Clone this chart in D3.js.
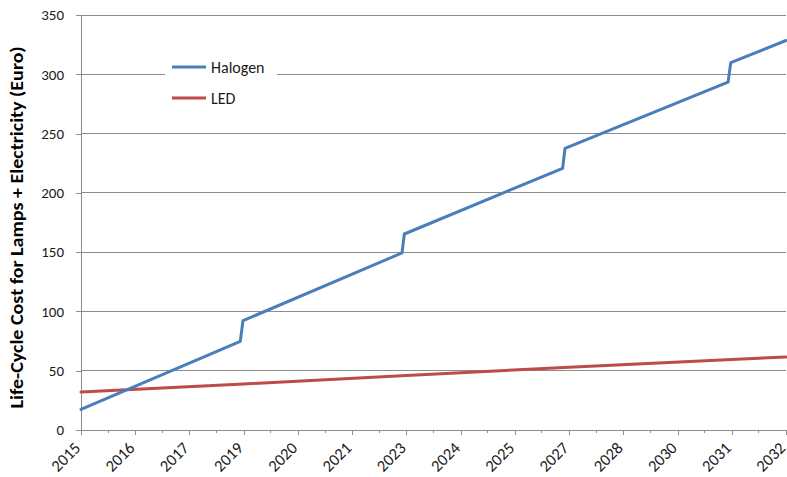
<!DOCTYPE html>
<html>
<head>
<meta charset="utf-8">
<script src="https://cdn.jsdelivr.net/npm/d3@7"></script>
<style>
  html, body { margin: 0; padding: 0; background: #fff; }
  svg { display: block; font-family: Carlito, Calibri, Lato, sans-serif; }
</style>
</head>
<body>
<svg id="chart" width="787" height="477"></svg>
<script>
// Month offsets from January 2015 and cumulative life-cycle cost (Euro)
const halogenMonths = [0, 47, 47.8, 94.7, 95.4, 142.1, 142.8, 190.9, 191.7, 208];
const halogenCost   = [17.4, 74.8, 92.2, 149.3, 165.3, 220.7, 237.6, 293.3, 309.8, 328.5];

const ledMonths = [0, 48, 96, 144, 192, 208];
const ledCost   = [32.0, 38.8, 46.0, 53.0, 59.5, 61.6];

// Category labels on the time axis (one every 16 months)
const xTickMonths = [0, 16, 32, 48, 64, 80, 96, 112, 128, 144, 160, 176, 192, 208];
const xTickLabels = ["2015", "2016", "2017", "2019", "2020", "2021", "2023",
                     "2024", "2025", "2027", "2028", "2030", "2031", "2032"];
const xMinorMonths = [8, 24, 40, 56, 72, 88, 104, 120, 136, 152, 168, 184, 200];

const yTicks = [0, 50, 100, 150, 200, 250, 300, 350];

const seriesNames  = ["Halogen", "LED"];
const seriesColors = ["#4a7ebb", "#be4b48"];

const svg = d3.select("#chart");
const margin = { left: 81, right: 1, top: 15, bottom: 47 };
const W = 787, H = 477;
const FONT = "Carlito, Calibri, Lato, sans-serif";

const x = d3.scaleLinear().domain([0, 208]).range([margin.left, W - margin.right]);
const y = d3.scaleLinear().domain([0, 350]).range([H - margin.bottom, margin.top]);

// Horizontal gridlines
svg.append("g")
  .selectAll("line")
  .data(yTicks.filter(d => d > 0))
  .join("line")
  .attr("x1", x(0)).attr("x2", x(208))
  .attr("y1", d => y(d)).attr("y2", d => y(d))
  .attr("stroke", "#8c8c8c").attr("stroke-width", 1)
  .attr("shape-rendering", "crispEdges");

// Y axis
const yAxis = svg.append("g")
  .attr("transform", `translate(${x(0)},0)`)
  .call(d3.axisLeft(y).tickValues(yTicks).tickSize(5).tickPadding(12));
yAxis.select(".domain").attr("stroke", "#8c8c8c").attr("shape-rendering", "crispEdges");
yAxis.selectAll(".tick line").attr("stroke", "#8c8c8c").attr("shape-rendering", "crispEdges");
yAxis.selectAll(".tick text")
  .attr("font-size", 15).attr("fill", "#1a1a1a")
  .style("font-family", FONT);

// X axis: minor ticks
svg.append("g")
  .attr("transform", `translate(0,${y(0)})`)
  .selectAll("line")
  .data(xMinorMonths)
  .join("line")
  .attr("x1", d => x(d)).attr("x2", d => x(d))
  .attr("y1", 0).attr("y2", 3)
  .attr("stroke", "#8c8c8c")
  .attr("shape-rendering", "crispEdges");

// X axis: major ticks and rotated labels
const xAxis = svg.append("g")
  .attr("transform", `translate(0,${y(0)})`)
  .call(d3.axisBottom(x)
    .tickValues(xTickMonths)
    .tickFormat((d, i) => xTickLabels[i])
    .tickSize(5)
    .tickSizeOuter(0));
xAxis.select(".domain").attr("stroke", "#8c8c8c").attr("shape-rendering", "crispEdges");
xAxis.selectAll(".tick line").attr("stroke", "#8c8c8c").attr("shape-rendering", "crispEdges");
xAxis.selectAll(".tick text")
  .attr("font-size", 16.5).attr("fill", "#1a1a1a")
  .style("font-family", FONT)
  .attr("text-anchor", "end")
  .attr("x", 0).attr("y", 0).attr("dy", null)
  .attr("transform", "translate(0,19) rotate(-45)");

// Y axis title
svg.append("text")
  .attr("transform", `translate(23,${(y(0) + y(350)) / 2 + 5}) rotate(-90)`)
  .attr("text-anchor", "middle")
  .attr("font-size", 17)
  .attr("font-weight", "bold")
  .attr("fill", "#000")
  .attr("textLength", 362)
  .attr("lengthAdjust", "spacingAndGlyphs")
  .text("Life-Cycle Cost for Lamps + Electricity (Euro)");

// Series lines
const line = d3.line()
  .x(d => x(d[0]))
  .y(d => y(d[1]));

const series = [
  d3.zip(halogenMonths, halogenCost),
  d3.zip(ledMonths, ledCost)
];

// LED drawn first so halogen sits on top
[1, 0].forEach(i => {
  svg.append("path")
    .datum(series[i])
    .attr("d", line)
    .attr("fill", "none")
    .attr("stroke", seriesColors[i])
    .attr("stroke-width", 3)
    .attr("stroke-linejoin", "round")
    .attr("stroke-linecap", "round");
});

// Legend
const legend = svg.append("g").attr("transform", "translate(165,52)");
legend.append("rect")
  .attr("width", 112).attr("height", 60)
  .attr("fill", "#fff");
seriesNames.forEach((name, i) => {
  const row = legend.append("g").attr("transform", `translate(0,${15 + i * 31})`);
  row.append("line")
    .attr("x1", 7).attr("x2", 41)
    .attr("y1", 0).attr("y2", 0)
    .attr("stroke", seriesColors[i])
    .attr("stroke-width", 3);
  row.append("text")
    .attr("x", 46).attr("y", 5.5)
    .attr("font-size", 16)
    .attr("fill", "#1a1a1a")
    .text(name);
});
</script>
</body>
</html>
